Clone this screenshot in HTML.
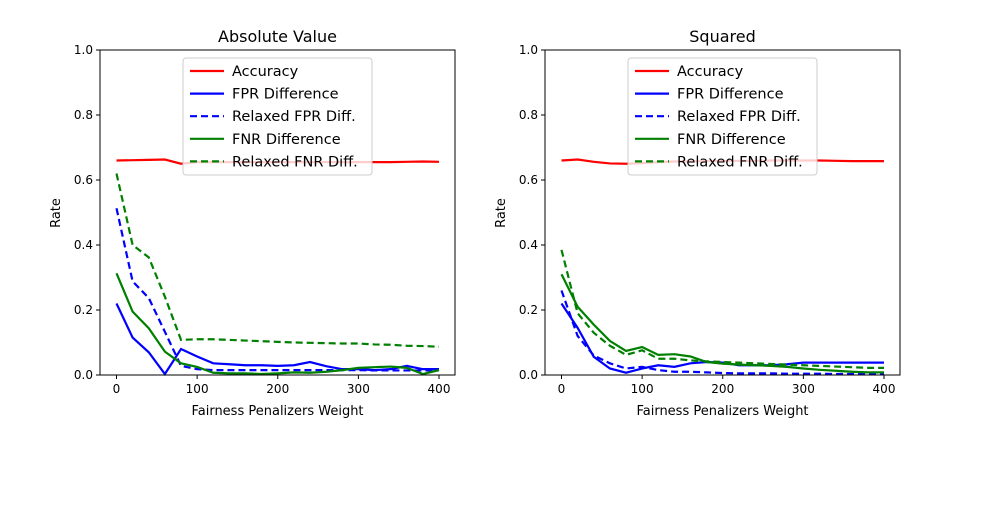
<!DOCTYPE html>
<html><head><meta charset="utf-8"><style>
body{margin:0;background:#fff;}
svg text{font-family:"DejaVu Sans","Liberation Sans",sans-serif;fill:#000;}
</style></head><body>
<svg id="chart" width="1000" height="500" xmlns="http://www.w3.org/2000/svg"></svg>
<script>
const xs = [0,20,40,60,80,100,120,140,160,180,200,220,240,260,280,300,320,340,360,380,400];
const absAcc = [0.66,0.661,0.662,0.663,0.65,0.655,0.655,0.655,0.655,0.655,0.655,0.655,0.655,0.655,0.655,0.655,0.655,0.655,0.656,0.657,0.656];
const absFpr = [0.22,0.115,0.07,0.003,0.08,0.057,0.036,0.033,0.03,0.03,0.028,0.03,0.04,0.027,0.018,0.018,0.015,0.018,0.028,0.018,0.018];
const absRFpr = [0.513,0.288,0.237,0.133,0.028,0.018,0.015,0.015,0.015,0.015,0.015,0.015,0.015,0.015,0.015,0.015,0.014,0.014,0.014,0.014,0.014];
const absFnr = [0.313,0.195,0.144,0.072,0.036,0.025,0.007,0.005,0.005,0.003,0.005,0.008,0.007,0.01,0.015,0.022,0.024,0.026,0.022,0.003,0.015];
const absRFnr = [0.62,0.4,0.362,0.241,0.108,0.11,0.11,0.108,0.106,0.104,0.102,0.1,0.099,0.098,0.097,0.097,0.094,0.093,0.09,0.089,0.087];
const sqAcc = [0.66,0.663,0.656,0.651,0.65,0.652,0.655,0.657,0.657,0.658,0.658,0.659,0.659,0.66,0.66,0.66,0.66,0.659,0.658,0.658,0.658];
const sqFpr = [0.22,0.145,0.056,0.02,0.007,0.02,0.03,0.025,0.036,0.04,0.038,0.03,0.03,0.03,0.033,0.038,0.038,0.038,0.038,0.038,0.038];
const sqRFpr = [0.26,0.12,0.06,0.036,0.02,0.025,0.015,0.01,0.01,0.008,0.006,0.005,0.005,0.005,0.004,0.004,0.004,0.003,0.003,0.003,0.003];
const sqFnr = [0.31,0.21,0.155,0.105,0.074,0.086,0.062,0.064,0.057,0.04,0.035,0.032,0.03,0.028,0.025,0.02,0.016,0.013,0.01,0.008,0.008];
const sqRFnr = [0.385,0.19,0.13,0.09,0.062,0.076,0.05,0.05,0.045,0.042,0.04,0.038,0.036,0.034,0.032,0.03,0.028,0.026,0.024,0.022,0.022];
const xTicks = [0,100,200,300,400];
const yTicks = [0.0,0.2,0.4,0.6,0.8,1.0];
const legendLabels = ["Accuracy","FPR Difference","Relaxed FPR Diff.","FNR Difference","Relaxed FNR Diff."];

const NS="http://www.w3.org/2000/svg";
const svg=document.getElementById('chart');
function mk(tag,attrs,parent){const e=document.createElementNS(NS,tag);for(const k in attrs)e.setAttribute(k,attrs[k]);(parent||svg).appendChild(e);return e;}
const styles=[{c:'#ff0000',d:''},{c:'#0000ff',d:''},{c:'#0000ff',d:'7,4'},{c:'#008000',d:''},{c:'#008000',d:'7,4'}];

function panel(left,title,series,key){
  const top=50,w=355,h=325,x0=left+16.5,x1=left+339;
  const X=v=>x0+(v/400)*(x1-x0);
  const Y=v=>top+h-v*h;
  const g=mk('g',{});
  
  
  const t=mk('text',{x:left+w/2,y:42,'text-anchor':'middle','font-size':16},g);t.textContent=title;
  
  series.forEach((s,i)=>{
    const p=mk('polyline',{points:xs.map((x,j)=>X(x)+','+Y(s[j])).join(' '),fill:'none',stroke:styles[i].c,'stroke-width':2.2},g);
    if(styles[i].d)p.setAttribute('stroke-dasharray',styles[i].d);
    
  });
  mk('rect',{x:left,y:top,width:w,height:h,fill:'none',stroke:'#000','stroke-width':1},g);
  xTicks.forEach(v=>{
    mk('line',{x1:X(v),x2:X(v),y1:top+h,y2:top+h+4,stroke:'#000'},g);
    const tt=mk('text',{x:X(v),y:top+h+18,'text-anchor':'middle','font-size':12},g);tt.textContent=v;
    
  });
  yTicks.forEach(v=>{
    mk('line',{x1:left-4,x2:left,y1:Y(v),y2:Y(v),stroke:'#000'},g);
    const tt=mk('text',{x:left-7,y:Y(v)+4,'text-anchor':'end','font-size':12},g);tt.textContent=v.toFixed(1);
    
  });
  const xl=mk('text',{x:left+w/2,y:415,'text-anchor':'middle','font-size':13},g);xl.textContent='Fairness Penalizers Weight';
  
  const yl=mk('text',{x:0,y:0,'text-anchor':'middle','font-size':13,transform:`translate(${left-40},213) rotate(-90)`},g);yl.textContent='Rate';
  
  const lg=mk('g',{},g);
  
  mk('rect',{x:left+83,y:58,width:189,height:117,rx:3,fill:'rgba(255,255,255,0.8)',stroke:'#ccc'},lg);
  legendLabels.forEach((lab,i)=>{
    const yy=71+i*22.6;
    const l=mk('line',{x1:left+90,x2:left+124,y1:yy,y2:yy,stroke:styles[i].c,'stroke-width':2.2},lg);
    if(styles[i].d)l.setAttribute('stroke-dasharray',styles[i].d);
    const tt=mk('text',{x:left+132,y:yy+5,'font-size':14.5},lg);tt.textContent=lab;
    
  });
}
panel(100,'Absolute Value',[absAcc,absFpr,absRFpr,absFnr,absRFnr],'absolute');
panel(545,'Squared',[sqAcc,sqFpr,sqRFpr,sqFnr,sqRFnr],'squared');
</script>
</body></html>
